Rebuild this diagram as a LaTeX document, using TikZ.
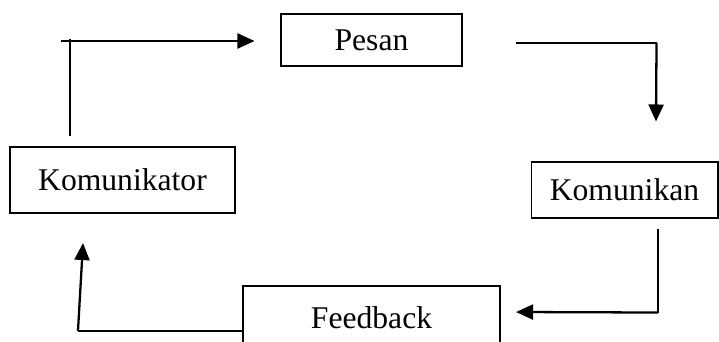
\documentclass[tikz,border=0pt]{standalone}
\usepackage{fontspec}
\setmainfont{Liberation Serif}
\usetikzlibrary{arrows.meta,positioning,calc}
\tikzset{
  % Base box
  KT/.style={rectangle,draw,line width=0.6pt,inner sep=0pt,
             text centered,font=\fontsize{18}{21}\selectfont},
  % Thick box
  KB/.style={KT,line width=1.2pt},
  % Thin line
  ln/.style={line width=0.6pt},
  % Arrow
  arr/.style={-{Triangle[length=0.34cm,width=0.3cm]},line width=1.3pt}
}
\begin{document}
\begin{tikzpicture}[x=0.02cm,y=-0.02cm]
  \useasboundingbox (0,0) rectangle (719,341);

  %------ BOXES ------
  \node[KT,minimum width=3.62cm,minimum height=1.04cm] (pesan) at (371.5,40)  {Pesan};
  \node[KB,minimum width=4.5cm,minimum height=1.32cm]  (kmtr)  at (122.5,180) {Komunikator};
  \node[KT,minimum width=3.74cm,minimum height=1.12cm] (kmkn)  at (624.5,190) {Komunikan};
  \node[KB,minimum width=5.14cm,minimum height=1.28cm] (fdbk)  at (371.5,318) {Feedback};

  % Komunikator -> Pesan
  \draw[ln]($(kmtr.north)+(-52.5,-10)$)--++(0,-97);
  \draw[arr]($(pesan.west)+(-219,1)$)--($(pesan.west)+(-26,1)$);

  % Pesan -> Komunikan
  \draw[ln]($(pesan.east)+(53,3)$)--++(141,0) coordinate (sdt2);
  \draw[arr](sdt2)--($(kmkn.north)+(31.5,-40)$);

  % Komunikan -> Feedback
  \draw[ln]($(kmkn.south)+(33.5,10)$)--++(0,84) coordinate (sdt3);
  \draw[arr](sdt3)--($(fdbk.east)+(15,-6)$);

  % Feedback -> Komunikator
  \draw[ln]($(fdbk.west)+(0,13)$)--++(-164,0) coordinate (sdt4);
  \draw[arr](sdt4)--($(kmtr.south)+(-39.5,29)$);
\end{tikzpicture}
\end{document}
